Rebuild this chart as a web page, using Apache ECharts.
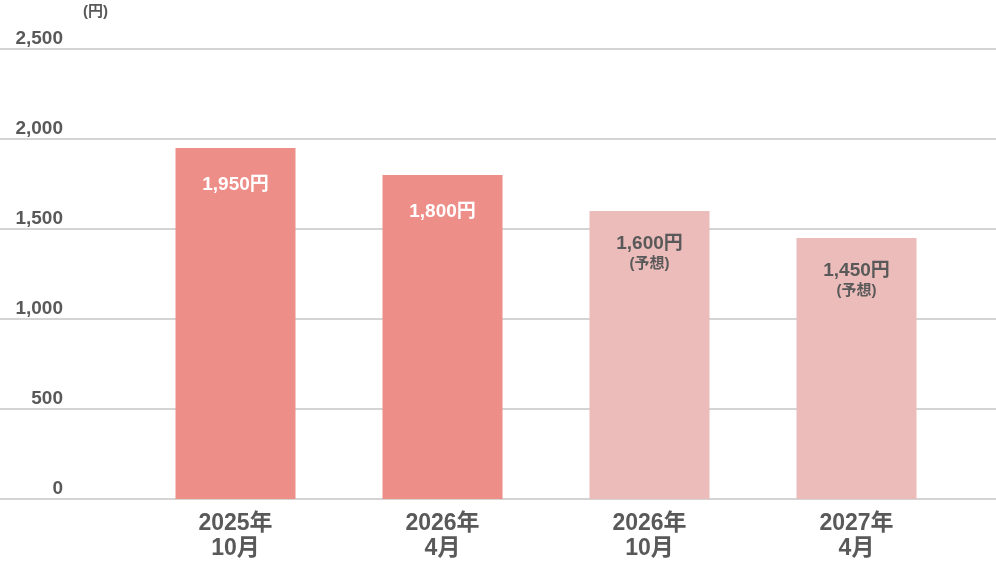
<!DOCTYPE html>
<html>
<head>
<meta charset="utf-8">
<script src="https://cdn.jsdelivr.net/npm/echarts@6/dist/echarts.min.js"></script>
<style>html,body{margin:0;padding:0;background:#fff;}#c{width:996px;height:561px;}</style>
</head>
<body>
<div id="c"></div>
<script>
var categories = ['2025年\n10月', '2026年\n4月', '2026年\n10月', '2027年\n4月'];
var values = [1950, 1800, 1600, 1450];
var forecast = [false, false, true, true];
var yTicks = [0, 500, 1000, 1500, 2000, 2500];
var unitLabel = '(円)';
var forecastLabel = '(予想)';

var FONT = '"Liberation Sans", Arial, "Noto Sans CJK JP", sans-serif';
var TXT = '#595959';
var chart = echarts.init(document.getElementById('c'));

var data = values.map(function (v, i) {
  var f = forecast[i];
  return {
    value: v,
    itemStyle: { color: f ? '#EBBCBA' : '#EE8E88' },
    label: {
      show: true,
      position: 'insideTop',
      distance: f ? 22 : 26,
      formatter: function (p) {
        var s = p.value.toLocaleString('en-US') + '円';
        return f ? '{a|' + s + '}\n{b|' + forecastLabel + '}' : '{w|' + s + '}';
      },
      rich: {
        w: { color: '#fff', fontSize: 19, fontWeight: 'bold', fontFamily: FONT, lineHeight: 22 },
        a: { color: TXT, fontSize: 19, fontWeight: 'bold', fontFamily: FONT, lineHeight: 22 },
        b: { color: TXT, fontSize: 15, fontWeight: 'bold', fontFamily: FONT, lineHeight: 18 }
      }
    }
  };
});

chart.setOption({
  animation: false,
  textStyle: { fontFamily: FONT },
  grid: [
    { left: 0, right: 0, top: 49, bottom: 62 },
    { left: 132, right: 36, top: 49, bottom: 62 }
  ],
  graphic: [{
    type: 'text', left: 83, top: 4,
    style: { text: unitLabel, fontSize: 15, fontWeight: 'bold', fill: TXT, fontFamily: FONT }
  }],
  xAxis: [
    { gridIndex: 0, type: 'category', data: ['a'], show: false },
    {
      gridIndex: 1, type: 'category', data: categories,
      axisLine: { show: false }, axisTick: { show: false },
      axisLabel: { color: TXT, fontSize: 23, fontWeight: 'bold', lineHeight: 25, margin: 12, fontFamily: FONT }
    }
  ],
  yAxis: [
    {
      gridIndex: 0, type: 'value', min: 0, max: 2500, interval: 500,
      axisLine: { show: false }, axisTick: { show: false },
      splitLine: { lineStyle: { color: '#d4d4d4', width: 2 } },
      axisLabel: {
        inside: true, align: 'right', verticalAlign: 'bottom', margin: 63,
        padding: [0, 0, 1, 0],
        color: TXT, fontSize: 19, fontWeight: 'bold', fontFamily: FONT,
        formatter: function (v) { return yTicks.indexOf(v) >= 0 ? v.toLocaleString('en-US') : ''; }
      }
    },
    { gridIndex: 1, type: 'value', min: 0, max: 2500, interval: 500, show: false, splitLine: { show: false } }
  ],
  series: [{
    type: 'bar', xAxisIndex: 1, yAxisIndex: 1, barWidth: 120, data: data
  }]
});
</script>
</body>
</html>
